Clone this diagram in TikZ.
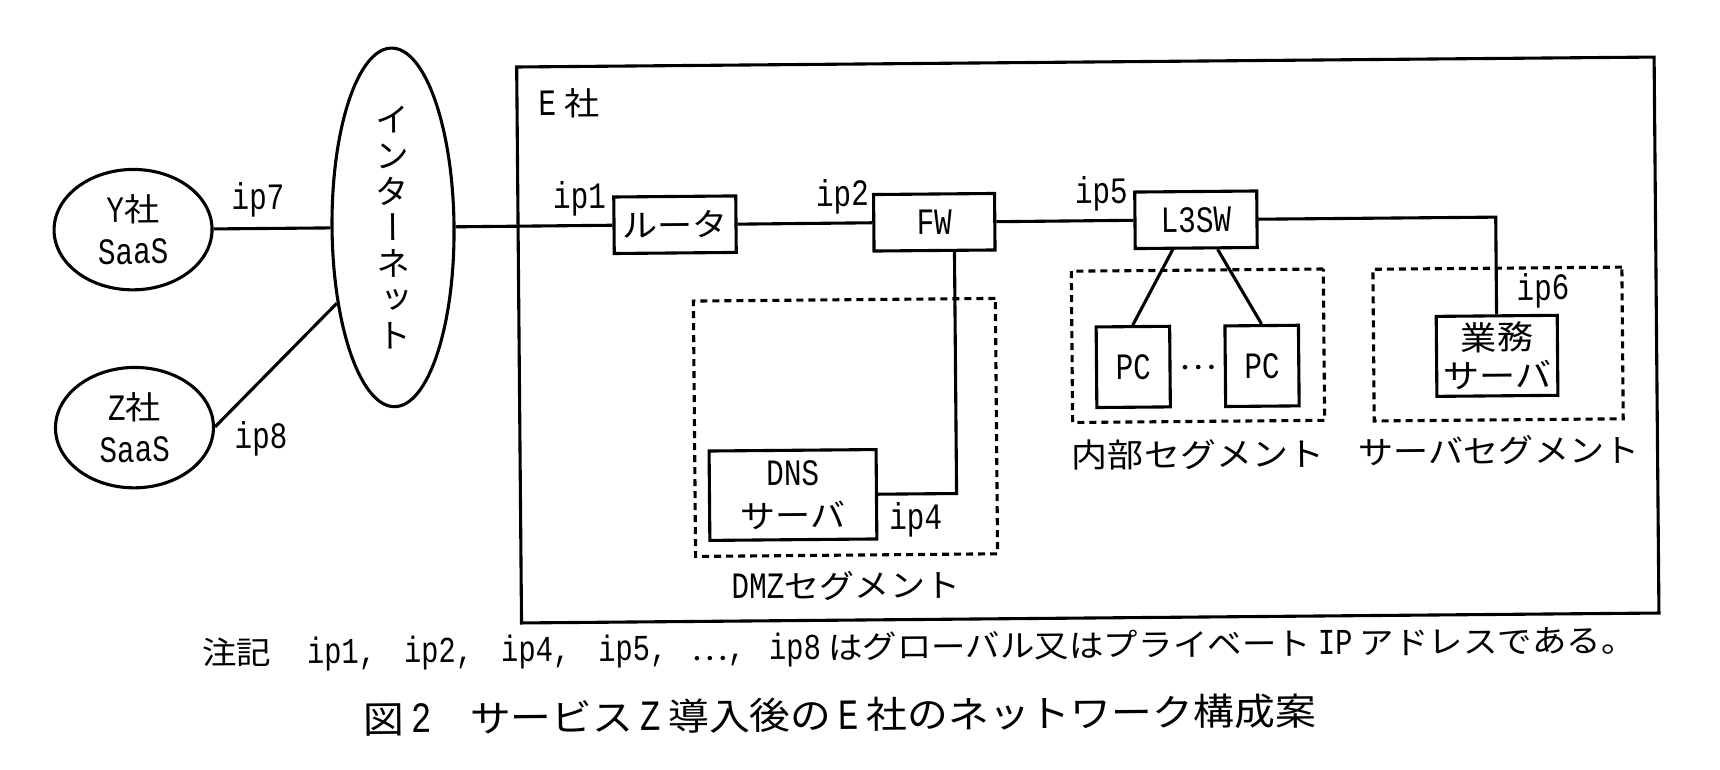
\documentclass[tikz,border=0pt]{standalone}
\usepackage{fontspec}
\usetikzlibrary{shapes.geometric}
\setmainfont[FakeStretch=1.1]{Noto Sans CJK JP}
\newfontfamily\latf[FakeStretch=0.79,Scale=1.16]{Liberation Mono}
\newfontfamily\jpvert[RawFeature={+vert}]{Noto Sans CJK JP}
\newcommand{\la}[1]{{\latf #1}}
\tikzstyle{line}=[-, line width=3.1pt]
\tikzstyle{txt}=[inner sep=0pt, align=center, font=\fontsize{32}{42}\selectfont]
\tikzstyle{cloud}=[ellipse, draw, line width=3.1pt, inner sep=0pt, txt]
\tikzstyle{device}=[rectangle, draw, line width=3.1pt, inner sep=0pt, txt]
\tikzstyle{segment}=[rectangle, draw, line width=3.1pt, dash pattern=on 7pt off 5pt]

\begin{document}
\begin{tikzpicture}[x=1pt,y=-1pt]
  \useasboundingbox (0,0) rectangle (1720,770);
  \begin{scope}[rotate around={0.5:(860,385)},transform shape]

  % company frame and segments
  \node[rectangle,draw,line width=3.1pt,minimum width=1137.5pt,minimum height=556pt] (esha) at (1088.2,342) {};
  \node[segment,minimum width=302pt,minimum height=255.4pt] (dmz) at (845.1,427.3) {};
  \node[segment,minimum width=252pt,minimum height=151.3pt] (inner) at (1198.3,348.7) {};
  \node[segment,minimum width=249pt,minimum height=151.7pt] (srvseg) at (1498.4,349.6) {};

  % clouds
  \node[cloud,minimum width=158pt,minimum height=120.4pt] (ysaas) at (134.4,223.3) {\la{Y}社\\\la{SaaS}};
  \node[cloud,minimum width=158pt,minimum height=120.4pt] (zsaas) at (134.1,421.3) {\la{Z}社\\\la{SaaS}};
  \node[cloud,minimum width=122pt,minimum height=358.6pt,
    font=\jpvert\fontsize{34}{36}\selectfont] (net) at (394.4,223.3) {イ\\ン\\タ\\ー\\ネ\\ッ\\ト};

  % devices
  \node[device,minimum width=122pt,minimum height=56.5pt] (router) at (676.4,223.1) {ルータ};
  \node[device,minimum width=121pt,minimum height=56.5pt] (fw) at (935.7,222.9) {\la{FW}};
  \node[device,minimum width=122pt,minimum height=56.5pt] (l3sw) at (1197.4,222.7) {\la{L3SW}};
  \node[device,minimum width=167pt,minimum height=89.4pt] (dns) at (792,494.4) {\la{DNS}\\サーバ};
  \node[device,minimum width=73.5pt,minimum height=80.6pt] (pca) at (1133.4,369.3) {\la{PC}};
  \node[device,minimum width=73.5pt,minimum height=80.6pt] (pcb) at (1262.2,369.4) {\la{PC}};
  \node[device,minimum width=121pt,minimum height=80pt,
    font=\fontsize{33}{38}\selectfont] (gyomu) at (1497.3,361.4) {業務\\サーバ};

  % links
  \draw[line] (ysaas.east) -- (net.west);
  \draw[line] (zsaas.east) -- (net.233);
  \draw[line] (net.east) -- (router.west);
  \draw[line] (router.east) -- (fw.west);
  \draw[line] (fw.east) -- (l3sw.west);
  \draw[line] (dns.east) -| ([xshift=20pt]fw.south);
  \draw[line] ([xshift=-23.5pt]l3sw.south) -- (pca.north);
  \draw[line] ([xshift=21.5pt]l3sw.south) -- (pcb.north);
  \draw[line] (l3sw.east) -| (gyomu.north);

  % labels
  \node[txt] (lbe) at (571.4,100.5) {\la{E} 社};
  \node[txt] (lb7) at (259.6,194.8) {\la{ip7}};
  \node[txt] (lb8) at (260.5,433.3) {\la{ip8}};
  \node[txt] (lb1) at (581.1,196.6) {\la{ip1}};
  \node[txt] (lb2) at (844.1,196.3) {\la{ip2}};
  \node[txt] (lb5) at (1103,195.6) {\la{ip5}};
  \node[txt] (lb4) at (914.5,520) {\la{ip4}};
  \node[txt] (lb6) at (1543.8,296.4) {\la{ip6}};
  \node[txt] (dots) at (1198.5,370.4) {…};
  \node[txt] (lbdmz) at (844.2,585.5) {\la{DMZ}セグメント};
  \node[txt,font=\fontsize{32.8}{42}\selectfont] (lbinner) at (1197.4,457.4) {内部セグメント};
  \node[txt] (lbsrv) at (1498.4,456.2) {サーバセグメント};

  % note and caption
  \node[txt,font=\fontsize{31.4}{36}\selectfont] (note) at (916.5,649.4)
    {注記\hspace{36pt}\la{ip1,}\hspace{28pt}\la{ip2,}\hspace{28pt}\la{ip4,}\hspace{28pt}\la{ip5,}\hspace{24pt}…\la{,}\hspace{24pt}\la{ip8}\hspace{7pt}はグローバル又はプライベート\hspace{7pt}\la{IP}\hspace{7pt}アドレスである。};
  \node[txt,font=\fontsize{37.2}{42}\selectfont] (caption) at (837,714.8)
    {図\hspace{7pt}\la{2}\hspace{38pt}サービス\hspace{7pt}\la{Z}\hspace{7pt}導入後の\hspace{7pt}\la{E}\hspace{7pt}社のネットワーク構成案};

  \end{scope}
\end{tikzpicture}
\end{document}
